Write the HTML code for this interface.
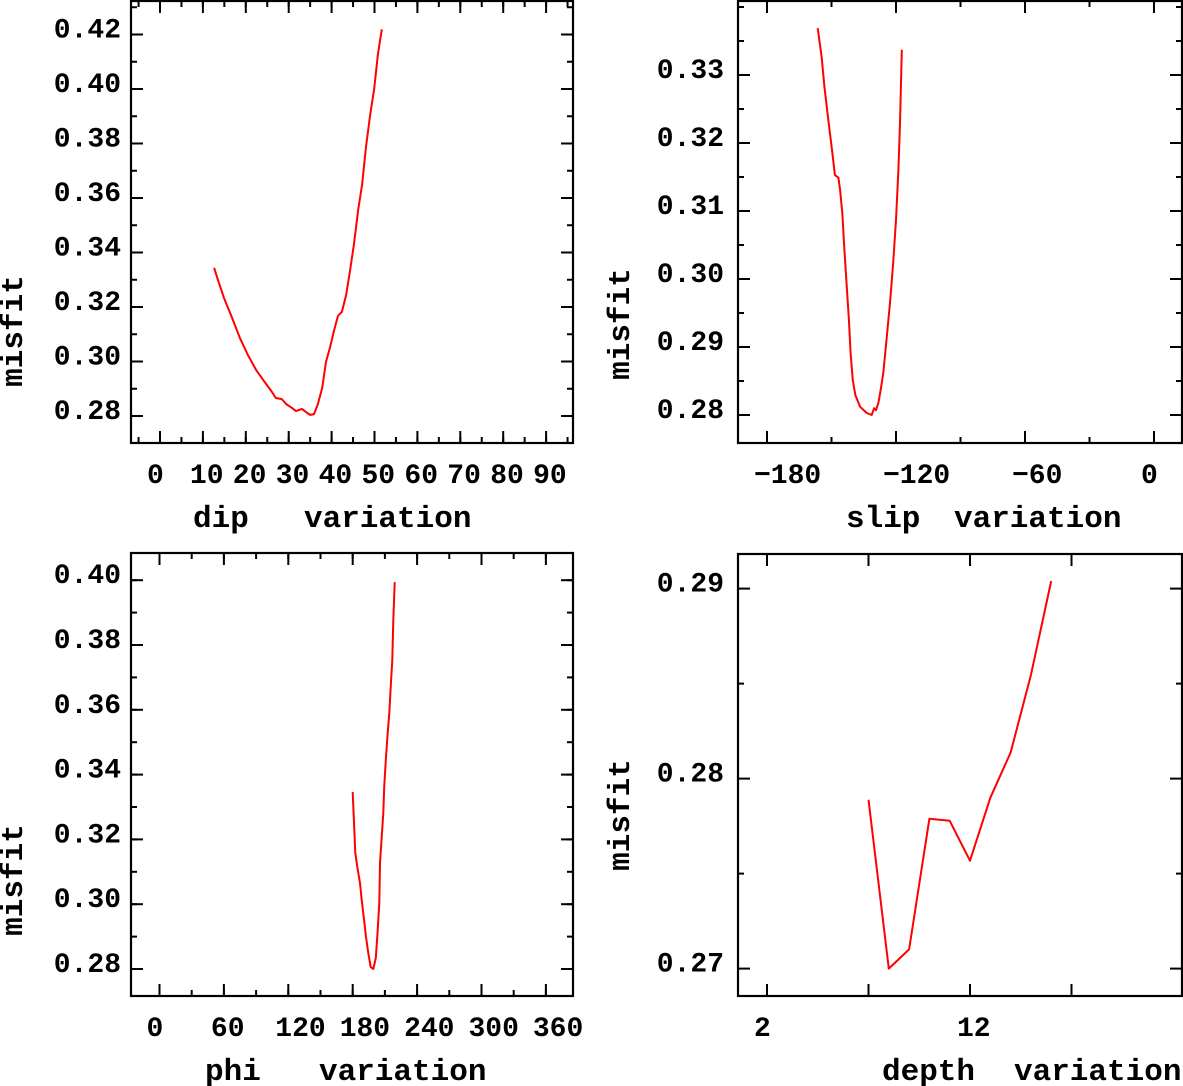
<!DOCTYPE html>
<html><head><meta charset="utf-8"><style>
html,body{margin:0;padding:0;background:#fff;}
svg{display:block;}
text{font-family:"Liberation Mono","DejaVu Sans Mono",monospace;fill:#000;}
.tl{font-size:28px;font-weight:bold;}
.tt{font-size:31px;font-weight:bold;}
</style></head><body>
<svg id="fig" width="1183" height="1086" viewBox="0 0 1183 1086" xmlns="http://www.w3.org/2000/svg"></svg>
<script>
// dip panel data
const dipX = [12.6,13.5,14.9,16.8,18.6,20.5,22.4,24.2,26.1,27.0,28.4,29.4,30.8,31.7,33.1,34.0,35.0,35.9,36.8,37.8,38.7,39.6,40.6,41.5,42.4,43.4,44.3,45.2,46.2,47.1,48.0,49.0,49.9,50.8,51.7];
const dipY = [0.3344,0.3300,0.3234,0.3160,0.3087,0.3024,0.2969,0.2929,0.2888,0.2866,0.2862,0.2844,0.2829,0.2818,0.2826,0.2815,0.2804,0.2807,0.2844,0.2903,0.2999,0.3050,0.3116,0.3168,0.3182,0.3245,0.3333,0.3429,0.3557,0.3649,0.3785,0.3906,0.3998,0.4127,0.4219];
const dipXTicks = [0,10,20,30,40,50,60,70,80,90];
const dipYTicks = [0.28,0.30,0.32,0.34,0.36,0.38,0.40,0.42];
// slip panel data
const slipX = [-156.4,-154.6,-153.3,-151.5,-149.6,-148.4,-146.8,-146.0,-145.0,-144.0,-142.9,-141.9,-141.1,-140.1,-138.9,-136.7,-133.6,-131.3,-130.2,-129.3,-128.2,-127.1,-125.9,-124.3,-122.8,-121.3,-120.0,-118.9,-118.1,-117.3];
const slipY = [0.3369,0.3327,0.3283,0.3234,0.3185,0.3153,0.3149,0.3131,0.3097,0.3043,0.2988,0.2940,0.2891,0.2851,0.2829,0.2812,0.2803,0.2800,0.2810,0.2807,0.2818,0.2837,0.2862,0.2915,0.2965,0.3024,0.3087,0.3160,0.3234,0.3337];
const slipXTicks = [-180,-120,-60,0];
const slipYTicks = [0.28,0.29,0.30,0.31,0.32,0.33];
// phi panel data
const phiX = [180.0,181.2,182.4,184.3,186.8,188.4,190.6,192.4,194.5,196.8,199.2,201.5,203.3,204.8,205.4,207.0,208.5,209.4,210.8,212.3,214.1,215.4,216.9,217.8,219.1];
const phiY = [0.3346,0.3251,0.3158,0.3115,0.3065,0.3013,0.2951,0.2899,0.2849,0.2806,0.2800,0.2834,0.2920,0.3004,0.3127,0.3207,0.3281,0.3362,0.3445,0.3516,0.3590,0.3670,0.3754,0.3877,0.3994];
const phiXTicks = [0,60,120,180,240,300,360];
const phiYTicks = [0.28,0.30,0.32,0.34,0.36,0.38,0.40];
// depth panel data
const depthX = [7,8,9,10,11,12,13,14,15,16];
const depthY = [0.27889,0.27,0.27101,0.27789,0.27778,0.27568,0.27899,0.28137,0.28545,0.2904];
const depthXTicks = [2,7,12,17];
const depthXLabels = ["2","","12",""];
const depthYTicks = [0.27,0.28,0.29];

const NS="http://www.w3.org/2000/svg";
const svg=document.getElementById('fig');
function mk(tag,attrs,parent){const e=document.createElementNS(NS,tag);for(const k in attrs)e.setAttribute(k,attrs[k]);(parent||svg).appendChild(e);return e;}
function fmtY(v,d){return v.toFixed(d);}

function panel(p){
  const g=mk('g',{});
  
  
  const box=mk('rect',{x:p.L,y:p.T,width:p.R-p.L,height:p.B-p.T,fill:'none',stroke:'#000','stroke-width':2.2},g);
  
  
  const sx=p.sx, sy=p.sy;
  // x ticks
  const xt=mk('g',{},g);
  
  
  p.xMinor.forEach(v=>{const x=sx(v);if(x<=p.L+2||x>=p.R-2)return;
    mk('line',{x1:x,x2:x,y1:p.B,y2:p.B-6,stroke:'#000','stroke-width':2},xt);
    mk('line',{x1:x,x2:x,y1:p.T,y2:p.T+6,stroke:'#000','stroke-width':2},xt);});
  p.xTicks.forEach((v,i)=>{const x=sx(v);
    mk('line',{x1:x,x2:x,y1:p.B,y2:p.B-12,stroke:'#000','stroke-width':2},xt);
    mk('line',{x1:x,x2:x,y1:p.T,y2:p.T+12,stroke:'#000','stroke-width':2},xt);
    const lab=p.xLabels?p.xLabels[i]:String(v).replace('-','\u2212');
    if(lab){const t=mk('text',{x:x-13,y:p.xLabY,class:'tl'},xt);t.textContent=lab;
      
      }
  });
  // y ticks
  const yt=mk('g',{},g);
  
  
  p.yMinor.forEach(v=>{const y=sy(v);if(y<=p.T+2||y>=p.B-2)return;
    mk('line',{x1:p.L,x2:p.L+6,y1:y,y2:y,stroke:'#000','stroke-width':2},yt);
    mk('line',{x1:p.R,x2:p.R-6,y1:y,y2:y,stroke:'#000','stroke-width':2},yt);});
  p.yTicks.forEach(v=>{const y=sy(v);
    mk('line',{x1:p.L,x2:p.L+12,y1:y,y2:y,stroke:'#000','stroke-width':2},yt);
    mk('line',{x1:p.R,x2:p.R-12,y1:y,y2:y,stroke:'#000','stroke-width':2},yt);
    const t=mk('text',{x:p.yLabX,y:y+3,class:'tl','text-anchor':'end'},yt);t.textContent=fmtY(v,p.dec);
    
    });
  // line
  const pts=p.xs.map((v,i)=>sx(v).toFixed(1)+','+sy(p.ys[i]).toFixed(1)).join(' ');
  const pl=mk('polyline',{points:pts,fill:'none',stroke:'#ff0000','stroke-width':2,'stroke-linejoin':'round'},g);
  
  
  // titles
  const t1=mk('text',{x:p.t1x,y:p.tY,class:'tt'},g);t1.textContent=p.t1;
  
  
  const t2=mk('text',{x:p.t2x,y:p.tY,class:'tt'},g);t2.textContent='variation';
  
  
  const yl=mk('text',{x:0,y:0,class:'tt','text-anchor':'middle',transform:'translate('+(p.myx)+','+p.myy+') rotate(-90)'},g);yl.textContent='misfit';
  
  
}
function range(a,b,s){const r=[];for(let v=a;v<=b+1e-9;v+=s)r.push(+v.toFixed(4));return r;}

panel({name:'dip',L:131,R:573,T:1,B:443,
  sx:v=>160+v*4.29, sy:v=>416-(v-0.28)*2725,
  xTicks:dipXTicks, xMinor:range(-5,95,5), yTicks:dipYTicks, yMinor:range(0.27,0.43,0.01), dec:2,
  xs:dipX, ys:dipY, xLabY:483, yLabX:121, t1:'dip', t1x:193, t2x:304, tY:527, myx:22, myy:331});
panel({name:'slip',L:738,R:1182,T:1,B:443,
  sx:v=>767+(v+180)*2.15, sy:v=>415-(v-0.28)*6800,
  xTicks:slipXTicks, xMinor:range(-210,30,30), yTicks:slipYTicks, yMinor:range(0.275,0.34,0.005), dec:2,
  xs:slipX, ys:slipY, xLabY:483, yLabX:724, t1:'slip', t1x:846, t2x:954, tY:527, myx:629, myy:324});
panel({name:'phi',L:131,R:573,T:553,B:996,
  sx:v=>159.5+v*1.0733, sy:v=>969-(v-0.28)*3240,
  xTicks:phiXTicks, xMinor:range(-30,390,30), yTicks:phiYTicks, yMinor:range(0.27,0.41,0.01), dec:2,
  xs:phiX, ys:phiY, xLabY:1036, yLabX:121, t1:'phi', t1x:205, t2x:319, tY:1080, myx:22, myy:880});
panel({name:'depth',L:738,R:1182,T:554,B:996,
  sx:v=>767+(v-2)*20.3, sy:v=>968.6-(v-0.27)*19000,
  xTicks:depthXTicks, xLabels:depthXLabels, xMinor:[], yTicks:depthYTicks, yMinor:[0.275,0.285], dec:2,
  xs:depthX, ys:depthY, xLabY:1036, yLabX:724, t1:'depth', t1x:882, t2x:1014, tY:1080, myx:629, myy:815});
</script>
</body></html>
